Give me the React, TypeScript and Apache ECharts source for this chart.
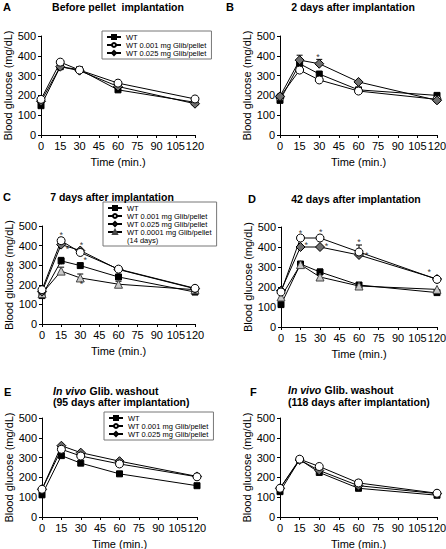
import React, { useEffect, useRef } from "react";
import * as echarts from "echarts";

// Time points (min)
const times = [0, 15, 30, 60, 120];

// Series names
const N_WT = "WT";
const N_001 = "WT 0.001 mg Glib/pellet";
const N_025 = "WT 0.025 mg Glib/pellet";
const N_0001 = "WT 0.0001 mg Glib/pellet";

// Panel A: Before pellet implantation
const aWT = [148, 345, 330, 228, 165];
const a001 = [180, 368, 328, 262, 182];
const a025 = [170, 345, 325, 245, 158];

// Panel B: 2 days after implantation
const bWT = [175, 360, 308, 228, 200];
const b001 = [192, 328, 278, 222, 180];
const b025 = [195, 378, 360, 268, 175];
const b025Err = [0, 25, 22, 0, 0];

// Panel C: 7 days after implantation
const cWT = [145, 322, 298, 240, 163];
const c001 = [175, 425, 365, 280, 182];
const c025 = [165, 405, 375, 278, 180];
const c0001 = [155, 270, 235, 203, 175];
const cWTErr = [10, 18, 12, 0, 0];
const c0001Err = [0, 20, 20, 15, 0];
const c001Err = [0, 15, 12, 0, 0];

// Panel D: 42 days after implantation
const dWT = [112, 315, 275, 210, 172];
const d001 = [175, 445, 445, 375, 238];
const d025 = [182, 400, 400, 360, 240];
const d0001 = [150, 312, 250, 205, 188];
const d001Err = [0, 0, 0, 35, 0];
const dWTErr = [0, 0, 15, 0, 0];

// Panel E: washout 95 days
const eWT = [112, 310, 272, 218, 158];
const e001 = [140, 342, 308, 268, 203];
const e025 = [140, 360, 325, 282, 205];
const e001Err = [0, 0, 0, 20, 15];

// Panel F: washout 118 days
const fWT = [128, 290, 225, 145, 110];
const f001 = [145, 292, 255, 172, 120];
const f025 = [145, 288, 235, 158, 118];
const f001Err = [0, 0, 0, 15, 10];

// Significance asterisks [time, glucose]
const bStars = [[29, 402]];
const cStars = [[15, 462], [20, 392], [31, 415], [34, 338], [31, 212]];
const dStars = [[15, 480], [19.5, 420], [30.5, 485], [35, 414], [60, 436], [66, 372], [114, 283], [124, 243]];

const FONT = "Liberation Sans, Arial, Helvetica, sans-serif";

const styles: Record<string, any> = {
  [N_WT]: { symbol: "rect", symbolSize: 6, color: "#000", border: "#000" },
  [N_001]: { symbol: "circle", symbolSize: 8, color: "#fff", border: "#000" },
  [N_025]: { symbol: "diamond", symbolSize: 9, color: "#6e6e6e", border: "#000" },
  [N_0001]: { symbol: "triangle", symbolSize: 8, color: "#c8c8c8", border: "#444" },
};

function lineSeries(name: string, vals: number[], idx: number) {
  const s = styles[name];
  return {
    type: "line",
    name,
    xAxisIndex: idx,
    yAxisIndex: idx,
    data: times.map((t, i) => [t, vals[i]]),
    symbol: s.symbol,
    symbolSize: s.symbolSize,
    showSymbol: true,
    lineStyle: { color: "#000", width: 1 },
    itemStyle: { color: s.color, borderColor: s.border, borderWidth: 1 },
    z: 3,
    silent: true,
  };
}

function errSeries(vals: number[], errs: number[], idx: number) {
  return {
    type: "custom",
    xAxisIndex: idx,
    yAxisIndex: idx,
    z: 1,
    silent: true,
    data: times.map((t, i) => [t, vals[i], errs[i]]).filter((d) => d[2] > 0),
    renderItem: (params: any, api: any) => {
      const x = api.value(0);
      const y = api.value(1);
      const e = api.value(2);
      const top = api.coord([x, y + e]);
      const bot = api.coord([x, y - e]);
      return {
        type: "group",
        children: [
          { type: "line", shape: { x1: top[0], y1: top[1], x2: bot[0], y2: bot[1] }, style: { stroke: "#000", lineWidth: 1 } },
          { type: "line", shape: { x1: top[0] - 3, y1: top[1], x2: top[0] + 3, y2: top[1] }, style: { stroke: "#000", lineWidth: 1 } },
        ],
      };
    },
  };
}

function starSeries(stars: number[][], idx: number) {
  return {
    type: "scatter",
    xAxisIndex: idx,
    yAxisIndex: idx,
    z: 5,
    silent: true,
    symbol: "circle",
    symbolSize: 1,
    itemStyle: { color: "rgba(0,0,0,0)" },
    data: stars,
    label: { show: true, formatter: "*", position: "inside", fontSize: 9, color: "#000", fontFamily: FONT, offset: [0, 2] },
  };
}

const grids = [
  { left: 41, top: 36, width: 154, height: 99 },
  { left: 280, top: 36, width: 157, height: 99 },
  { left: 42, top: 226, width: 153, height: 98 },
  { left: 281, top: 227, width: 156, height: 100 },
  { left: 42, top: 418, width: 155, height: 99 },
  { left: 280, top: 418, width: 157, height: 99 },
];

function legend(names: string[], left: number, top: number, padBottom: number) {
  return {
    data: names,
    left,
    top,
    orient: "vertical",
    itemWidth: 14,
    itemHeight: 5,
    itemGap: 0,
    padding: [2, 5, padBottom, 4],
    borderColor: "#777",
    borderWidth: 1,
    backgroundColor: "#fff",
    selectedMode: false,
    z: 4,
    textStyle: { fontSize: 7.5, color: "#000", fontFamily: FONT, lineHeight: 8 },
  };
}

function titleText(text: string, x: number, y: number, align = "center") {
  return {
    type: "text",
    x,
    y,
    z: 100,
    style: { text, fontSize: 10.5, fontWeight: "bold", fontFamily: FONT, fill: "#000", align, verticalAlign: "middle" },
  };
}

function richTitle(rest: string, x: number, y: number) {
  return {
    type: "text",
    x,
    y,
    z: 100,
    style: {
      text: "{i|In vivo} {b|" + rest + "}",
      fontFamily: FONT,
      fill: "#000",
      align: "left",
      verticalAlign: "middle",
      rich: {
        i: { fontSize: 10.5, fontWeight: "bold", fontStyle: "italic", fontFamily: FONT, fill: "#000" },
        b: { fontSize: 10.5, fontWeight: "bold", fontFamily: FONT, fill: "#000" },
      },
    },
  };
}

function letter(text: string, x: number, y: number) {
  return {
    type: "text",
    x,
    y,
    z: 100,
    style: { text, fontSize: 11, fontWeight: "bold", fontFamily: FONT, fill: "#000", align: "left", verticalAlign: "middle" },
  };
}

export default function App() {
  const ref = useRef<HTMLDivElement>(null);
  useEffect(() => {
    if (!ref.current) return;
    const chart = echarts.init(ref.current, undefined, { renderer: "svg" });
    const xAxes = grids.map((_, i) => ({
      type: "value",
      gridIndex: i,
      min: 0,
      max: 120,
      interval: 15,
      axisLine: { show: true, lineStyle: { color: "#000", width: 1 } },
      axisTick: { show: true, length: 3, lineStyle: { color: "#000" } },
      axisLabel: { fontSize: 11, color: "#000", margin: 5, fontFamily: FONT, hideOverlap: false },
      splitLine: { show: false },
      name: "Time (min.)",
      nameLocation: "middle",
      nameGap: 21,
      nameTextStyle: { fontSize: 11, color: "#000", fontFamily: FONT },
    }));
    const yAxes = grids.map((_, i) => ({
      type: "value",
      gridIndex: i,
      min: 0,
      max: 500,
      interval: 100,
      axisLine: { show: true, lineStyle: { color: "#000", width: 1 } },
      axisTick: { show: true, length: 3, lineStyle: { color: "#000" } },
      axisLabel: { fontSize: 11, color: "#000", margin: 5, fontFamily: FONT },
      splitLine: { show: false },
      name: "Blood glucose (mg/dL)",
      nameLocation: "middle",
      nameGap: 27,
      nameTextStyle: { fontSize: 11, color: "#000", fontFamily: FONT },
    }));

    const series: any[] = [
      // A
      lineSeries(N_WT, aWT, 0),
      lineSeries(N_025, a025, 0),
      lineSeries(N_001, a001, 0),
      // B
      errSeries(b025, b025Err, 1),
      lineSeries(N_WT, bWT, 1),
      lineSeries(N_001, b001, 1),
      lineSeries(N_025, b025, 1),
      starSeries(bStars, 1),
      // C
      errSeries(cWT, cWTErr, 2),
      errSeries(c0001, c0001Err, 2),
      errSeries(c001, c001Err, 2),
      lineSeries(N_WT, cWT, 2),
      lineSeries(N_0001, c0001, 2),
      lineSeries(N_025, c025, 2),
      lineSeries(N_001, c001, 2),
      starSeries(cStars, 2),
      // D
      errSeries(d001, d001Err, 3),
      errSeries(dWT, dWTErr, 3),
      lineSeries(N_WT, dWT, 3),
      lineSeries(N_0001, d0001, 3),
      lineSeries(N_025, d025, 3),
      lineSeries(N_001, d001, 3),
      starSeries(dStars, 3),
      // E
      errSeries(e001, e001Err, 4),
      lineSeries(N_WT, eWT, 4),
      lineSeries(N_025, e025, 4),
      lineSeries(N_001, e001, 4),
      // F
      errSeries(f001, f001Err, 5),
      lineSeries(N_WT, fWT, 5),
      lineSeries(N_025, f025, 5),
      lineSeries(N_001, f001, 5),
    ];

    chart.setOption({
      animation: false,
      backgroundColor: "#fff",
      textStyle: { fontFamily: FONT },
      grid: grids.map((g) => ({ ...g, containLabel: false, outerBoundsMode: "none" })),
      xAxis: xAxes,
      yAxis: yAxes,
      legend: [
        legend([N_WT, N_001, N_025], 102, 31, 2),
        legend([N_WT, N_001, N_025, N_0001], 103, 202, 10),
        legend([N_WT, N_001, N_025], 104, 412, 2),
      ],
      graphic: [
        letter("A", 3, 7),
        titleText("Before pellet  implantation", 118, 7),
        letter("B", 226, 7),
        titleText("2 days after implantation", 353, 7),
        letter("C", 3, 197),
        titleText("7 days after implantation", 112, 197),
        letter("D", 248, 199),
        titleText("42 days after implantation", 356, 199),
        letter("E", 4, 392),
        richTitle("Glib. washout", 53, 391),
        titleText("(95 days after implantation)", 53, 402, "left"),
        letter("F", 250, 392),
        richTitle("Glib. washout", 288, 390),
        titleText("(118 days after implantation)", 288, 402, "left"),
        {
          type: "text",
          x: 127,
          y: 240,
          z: 100,
          style: { text: "(14 days)", fontSize: 7.5, fontFamily: FONT, fill: "#000", align: "left", verticalAlign: "middle" },
        },
      ],
      series,
    });
    return () => chart.dispose();
  }, []);
  return (
    <div
      ref={ref}
      style={{ position: "fixed", left: 0, top: 0, width: 446, height: 549, background: "#fff" }}
    />
  );
}
